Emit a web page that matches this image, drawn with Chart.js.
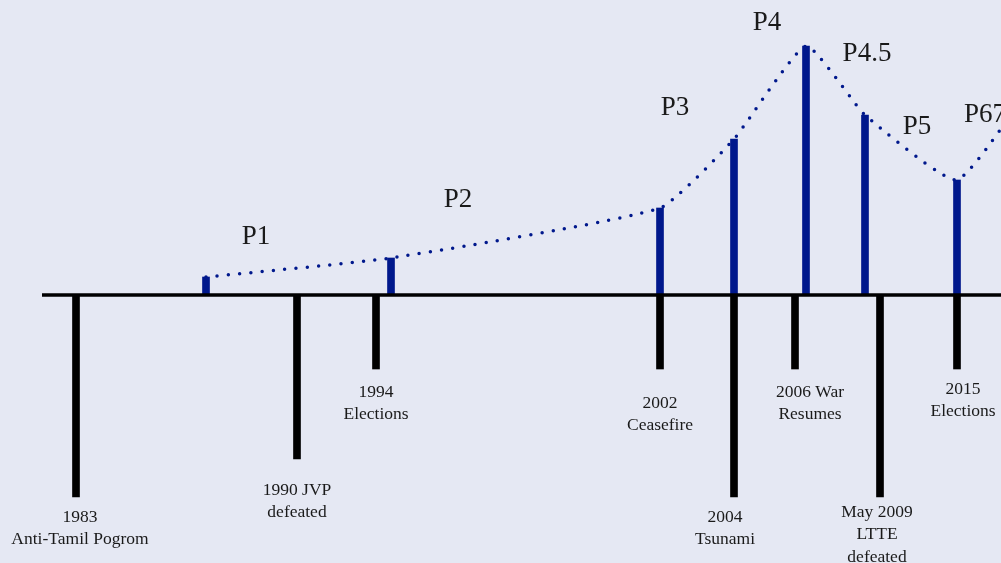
<!DOCTYPE html>
<html lang="en">
<head>
  <meta charset="UTF-8">
  <title>Timeline</title>
  <style>
    html, body { margin: 0; padding: 0; background: #e5e8f3; overflow: hidden; }
    .wrap { width: 1001px; height: 563px; position: relative; }
  </style>
</head>
<body>
  <div class="wrap">
    <canvas id="timeline"></canvas>
  </div>
<script src="https://cdn.jsdelivr.net/npm/chart.js"></script>
<script>
  // periods (blue bars above the line)
  const periods = ['P1', 'P2', 'P3', 'P4', 'P4.5', 'P5', 'P67'];
  const periodPos = [206, 391, 660, 734, 806, 865, 957];
  const periodHeight = [18, 37, 87, 156, 249, 180, 115];
  // dotted line keeps going past the right edge
  const tailPos = [1040];
  const tailHeight = [222];

  // events (black bars below the line)
  const eventLabels = [
    ['1983', 'Anti-Tamil Pogrom'],
    ['1990 JVP', 'defeated'],
    ['1994', 'Elections'],
    ['2002', 'Ceasefire'],
    ['2004', 'Tsunami'],
    ['2006 War', 'Resumes'],
    ['May 2009', 'LTTE', 'defeated'],
    ['2015', 'Elections']
  ];
  const eventPos = [76, 297, 376, 660, 734, 795, 880, 957];
  const eventDepth = [202, 164, 74, 74, 202, 74, 202, 74];

  // where the text sits (same units as the scales)
  const eventTextX = [80, 297, 376, 660, 725, 810, 877, 963];
  const eventTextY = [-222, -195, -97, -108, -222, -97, -217, -94];
  const periodTextX = [256, 458, 675, 767, 867, 917, 985];
  const periodTextY = [58, 95, 187, 272, 241, 168, 180];

  const axisStart = 42, axisEnd = 1001;

  const blue = '#00188c';

  const textPlugin = {
    id: 'textLabels',
    afterDatasetsDraw(chart) {
      const ctx = chart.ctx;
      const xs = chart.scales.x, ys = chart.scales.y;
      ctx.save();
      ctx.fillStyle = '#1a1a1a';
      ctx.textAlign = 'center';
      ctx.textBaseline = 'middle';

      ctx.font = '17.5px "Liberation Serif", "DejaVu Serif", serif';
      eventLabels.forEach((lines, i) => {
        const x = xs.getPixelForValue(eventTextX[i]);
        const y0 = ys.getPixelForValue(eventTextY[i]);
        lines.forEach((t, j) => ctx.fillText(t, x, y0 + j * 22.5));
      });

      ctx.font = '27px "Liberation Serif", "DejaVu Serif", serif';
      periods.forEach((p, i) => {
        ctx.fillText(p, xs.getPixelForValue(periodTextX[i]), ys.getPixelForValue(periodTextY[i]));
      });
      ctx.restore();
    }
  };

  const ctx = document.getElementById('timeline').getContext('2d');
  new Chart(ctx, {
    type: 'bar',
    data: {
      datasets: [
        {
          type: 'line',
          label: 'axis',
          data: [{ x: axisStart, y: 0 }, { x: axisEnd, y: 0 }],
          borderColor: '#000',
          borderWidth: 3.5,
          pointRadius: 0,
          order: 0
        },
        {
          type: 'line',
          label: 'trend',
          data: periodPos.concat(tailPos).map((x, i) => ({ x: x, y: periodHeight.concat(tailHeight)[i] })),
          borderColor: blue,
          borderWidth: 3.5,
          borderDash: [0, 11.3],
          borderCapStyle: 'round',
          pointRadius: 0,
          tension: 0.15,
          order: 1
        },
        {
          label: 'periods',
          data: periodPos.map((x, i) => ({ x: x, y: periodHeight[i] })),
          backgroundColor: blue,
          barThickness: 7,
          order: 2
        },
        {
          label: 'events',
          data: eventPos.map((x, i) => ({ x: x, y: -eventDepth[i] })),
          backgroundColor: '#000',
          barThickness: 7,
          order: 3
        }
      ]
    },
    options: {
      responsive: true,
      maintainAspectRatio: false,
      animation: false,
      grouped: false,
      layout: { padding: 0 },
      plugins: {
        legend: { display: false },
        tooltip: { enabled: false }
      },
      scales: {
        x: { type: 'linear', min: 0, max: 1001, display: false, offset: false },
        y: { type: 'linear', min: -268, max: 295, display: false }
      }
    },
    plugins: [textPlugin]
  });
</script>
</body>
</html>
